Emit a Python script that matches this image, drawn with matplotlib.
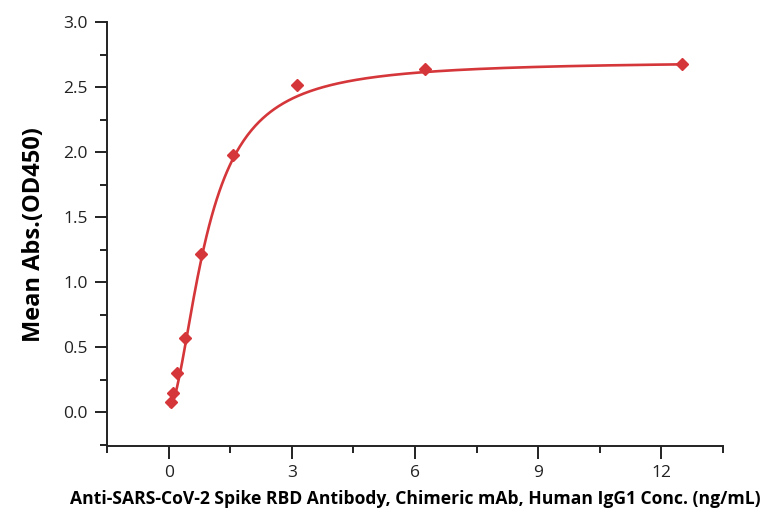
import numpy as np
import matplotlib
matplotlib.use('Agg')
import matplotlib.pyplot as plt
from matplotlib.ticker import MultipleLocator

# measured points
conc = [0.049, 0.098, 0.195, 0.391, 0.781, 1.5625, 3.125, 6.25, 12.5]
od450 = [0.08, 0.15, 0.30, 0.57, 1.22, 1.98, 2.52, 2.64, 2.68]

# 4PL fit parameters
fit_bottom = 0.03
fit_top = 2.70
fit_ec50 = 0.93
fit_hill = 1.8

xfit = np.linspace(conc[0], conc[-1], 400)
yfit = fit_bottom + (fit_top - fit_bottom) / (1 + (fit_ec50 / xfit) ** fit_hill)

plt.rcParams['font.family'] = ['Open Sans', 'DejaVu Sans']

fig = plt.figure(figsize=(7.65, 5.15), dpi=100)
ax = fig.add_axes([0.140, 0.134, 0.805, 0.823])

red = '#d5363a'
ax.plot(xfit, yfit, '-', color=red, lw=1.9, zorder=2)
ax.plot(conc, od450, 'D', color=red, ms=6.5, zorder=3)

ax.set_xlim(-1.5, 13.5)
ax.set_ylim(-0.26, 3.0)
ax.xaxis.set_major_locator(MultipleLocator(3))
ax.xaxis.set_minor_locator(MultipleLocator(1.5))
ax.yaxis.set_minor_locator(MultipleLocator(0.25))
ax.set_yticks(np.arange(0, 3.01, 0.5))
ax.set_yticklabels(['%.1f' % v for v in np.arange(0, 3.01, 0.5)])

for s in ['top', 'right']:
    ax.spines[s].set_visible(False)
for s in ['left', 'bottom']:
    ax.spines[s].set_linewidth(1.4)
    ax.spines[s].set_color('#222222')

ax.tick_params(axis='both', which='major', direction='out', length=9, width=1.4,
               labelsize=12.5, colors='#222222', pad=5)
ax.tick_params(axis='both', which='minor', direction='out', length=5, width=1.4,
               colors='#222222')

ax.set_ylabel('Mean Abs.(OD450)', fontsize=17, fontweight='bold', labelpad=12)
ax.set_xlabel('Anti-SARS-CoV-2 Spike RBD Antibody, Chimeric mAb, Human IgG1 Conc. (ng/mL)',
              fontsize=12.6, fontweight='bold', labelpad=6)

fig.savefig('out.png', dpi=100)
